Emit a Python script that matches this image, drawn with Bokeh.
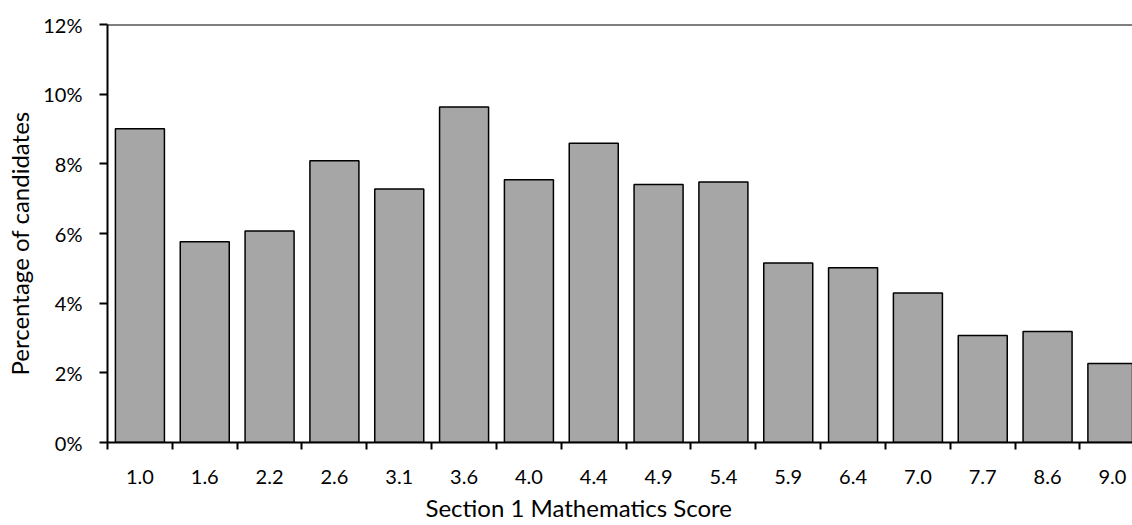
from bokeh.plotting import figure
from bokeh.models import Range1d, FixedTicker, PrintfTickFormatter, Span, ColumnDataSource, Title
from bokeh.embed import file_html
from bokeh.resources import INLINE

scores = ["1.0", "1.6", "2.2", "2.6", "3.1", "3.6", "4.0", "4.4",
          "4.9", "5.4", "5.9", "6.4", "7.0", "7.7", "8.6", "9.0"]
percentages = [9.01, 5.76, 6.07, 8.09, 7.28, 9.63, 7.54, 8.59,
               7.41, 7.48, 5.15, 5.02, 4.29, 3.07, 3.19, 2.27]
y_ticks = [0, 2, 4, 6, 8, 10, 12]
x_title = "Section 1 Mathematics Score"
y_title = "Percentage of candidates"

FONT = "Lato"
positions = list(range(len(scores)))
src = ColumnDataSource(dict(x=positions, top=percentages, label=scores))

p = figure(width=1132, height=525, output_backend="svg", toolbar_location=None,
           x_range=Range1d(-0.5, 15.31), y_range=Range1d(0, 12),
           min_border_left=107, min_border_right=0, min_border_top=24, min_border_bottom=83)

p.vbar(x="x", top="top", bottom=0, width=0.756, source=src,
       fill_color="#A6A6A6", line_color="black", line_width=1.5)

p.add_layout(Span(location=12, dimension="width", line_color="black", line_width=2))

p.xgrid.visible = False
p.ygrid.visible = False
p.outline_line_color = None
p.background_fill_color = "white"
p.border_fill_color = "white"

xa = p.xaxis[0]
xa.ticker = FixedTicker(ticks=positions, minor_ticks=[i - 0.5 for i in range(len(scores))])
xa.major_label_overrides = {i: s for i, s in enumerate(scores)}
xa.major_tick_out = 0
xa.major_tick_in = 0
xa.minor_tick_out = 7
xa.minor_tick_in = 0
xa.minor_tick_line_color = "black"
xa.minor_tick_line_width = 2
xa.axis_line_color = "black"
xa.axis_line_width = 2
xa.major_label_text_font = FONT
xa.major_label_text_font_size = "20px"
xa.major_label_text_color = "black"
xa.major_label_standoff = 20

ya = p.yaxis[0]
ya.ticker = FixedTicker(ticks=y_ticks, minor_ticks=[])
ya.formatter = PrintfTickFormatter(format="%d%%")
ya.major_tick_out = 8
ya.major_tick_in = 0
ya.major_tick_line_color = "black"
ya.major_tick_line_width = 2
ya.minor_tick_out = 0
ya.minor_tick_in = 0
ya.axis_line_color = "black"
ya.axis_line_width = 2
ya.major_label_text_font = FONT
ya.major_label_text_font_size = "20px"
ya.major_label_text_color = "black"
ya.major_label_standoff = 17

# axis titles (slightly off-centre, as in the original)
p.add_layout(Title(text=x_title, align="left", offset=318, standoff=8,
                   text_font=FONT, text_font_size="24px", text_font_style="normal",
                   text_color="black"), "below")
p.add_layout(Title(text=y_title, align="left", offset=67, standoff=9,
                   vertical_align="top",
                   text_font=FONT, text_font_size="24px", text_font_style="normal",
                   text_color="black"), "left")

open("out.html", "w").write(file_html(p, INLINE))
